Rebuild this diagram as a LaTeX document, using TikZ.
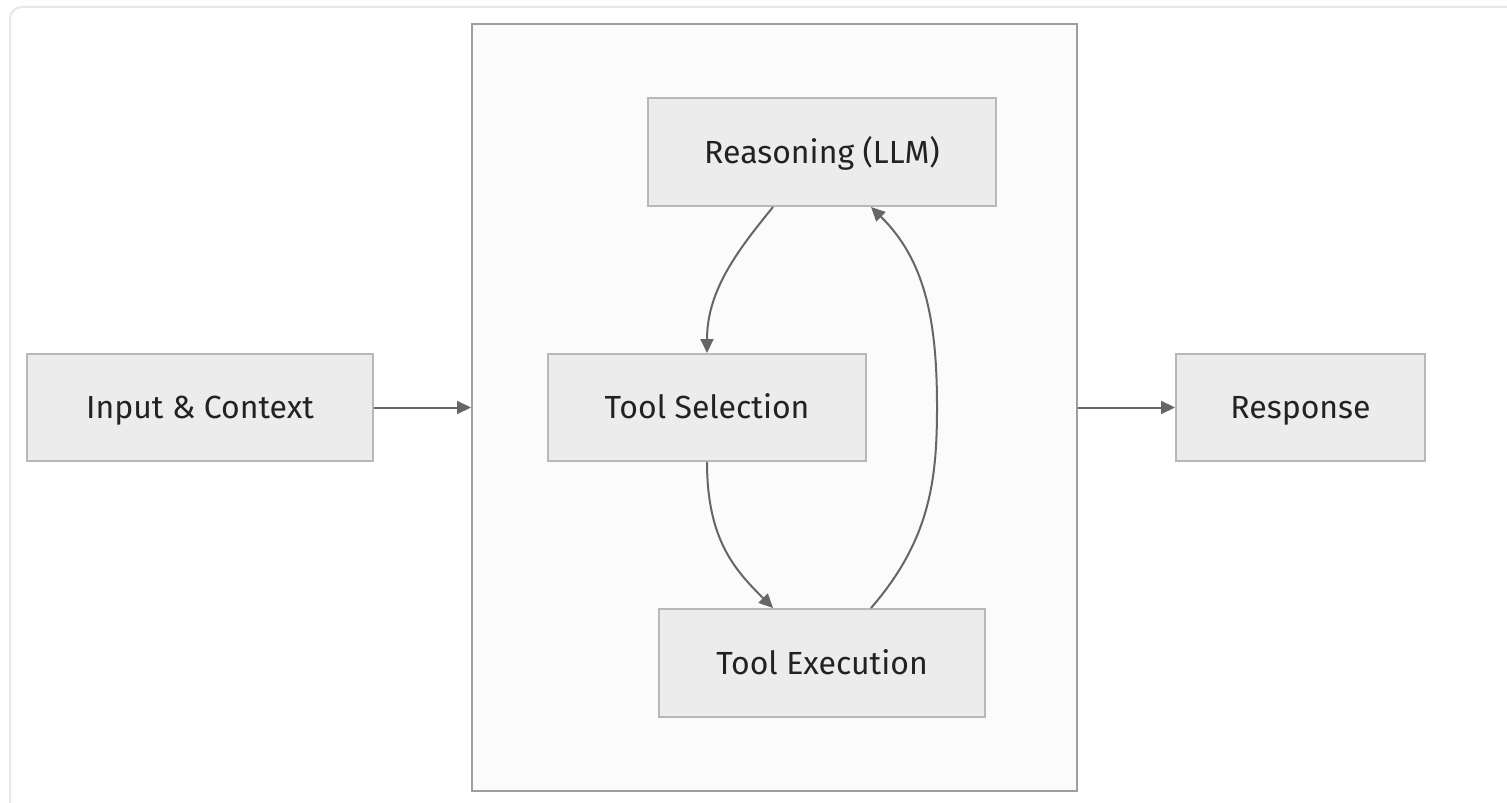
\documentclass[tikz,border=0pt]{standalone}
\usepackage{fontspec}
\setmainfont{Fira Sans}
\usetikzlibrary{arrows.meta,calc}

\definecolor{boxfill}{HTML}{ECECEC}
\definecolor{boxline}{HTML}{B8B8B8}
\definecolor{loopfill}{HTML}{FBFBFB}
\definecolor{loopline}{HTML}{9E9E9E}
\definecolor{arrcol}{HTML}{666666}
\definecolor{textcol}{HTML}{222222}
\definecolor{framecol}{HTML}{E6E7EB}

\tikzset{
  box/.style={draw=boxline, line width=1pt, fill=boxfill, minimum height=53.5pt,
    inner sep=0pt, text=textcol, text height=11.3pt, text depth=0pt,
    font=\fontsize{16}{19}\selectfont},
  loopbox/.style={draw=loopline, line width=1pt, fill=loopfill, inner sep=0pt},
  arr/.style={draw=arrcol, line width=1pt, -{Triangle[length=7pt,width=6.5pt]}},
}

\begin{document}
\begin{tikzpicture}[x=0.5pt,y=-0.5pt]
\useasboundingbox (0,0) rectangle (1507,802);
\fill[white] (0,0) rectangle (1507,802);
% card frame
\draw[framecol, line width=1pt, rounded corners=6pt] (10,820) |- (1530,7);

% agent loop container
\node[loopbox, minimum width=302.5pt, minimum height=383.5pt] (agent) at (774.5,407.5) {};

\node[box, minimum width=173pt] (inp) at (200,407.5) {Input \& Context};
\node[box, minimum width=124.5pt] (resp) at (1300.5,407.5) {Response};

\node[box, minimum width=174pt, minimum height=54pt] (reas) at (822,152) {Reasoning (LLM)};
\node[box, minimum width=159pt] (sel) at (707,407.5) {Tool Selection};
\node[box, minimum width=163pt, minimum height=54pt] (exec) at (822,663) {Tool Execution};

\draw[arr] (inp) -- (agent);
\draw[arr] (agent) -- (resp);

% the loop
\draw[arr] ($(reas.south)+(-49,0)$) .. controls (738,250) and (707,290) .. (sel.north);
\draw[arr] (sel.south) .. controls (707,540) and (735,570) .. ($(exec.north)+(-49,0)$);
\draw[arr] ($(exec.north)+(49,0)$) .. controls (930,540) and (937,480) .. (937,407)
  .. controls (937,320) and (925,260) .. ($(reas.south)+(49,0)$);
\end{tikzpicture}
\end{document}
